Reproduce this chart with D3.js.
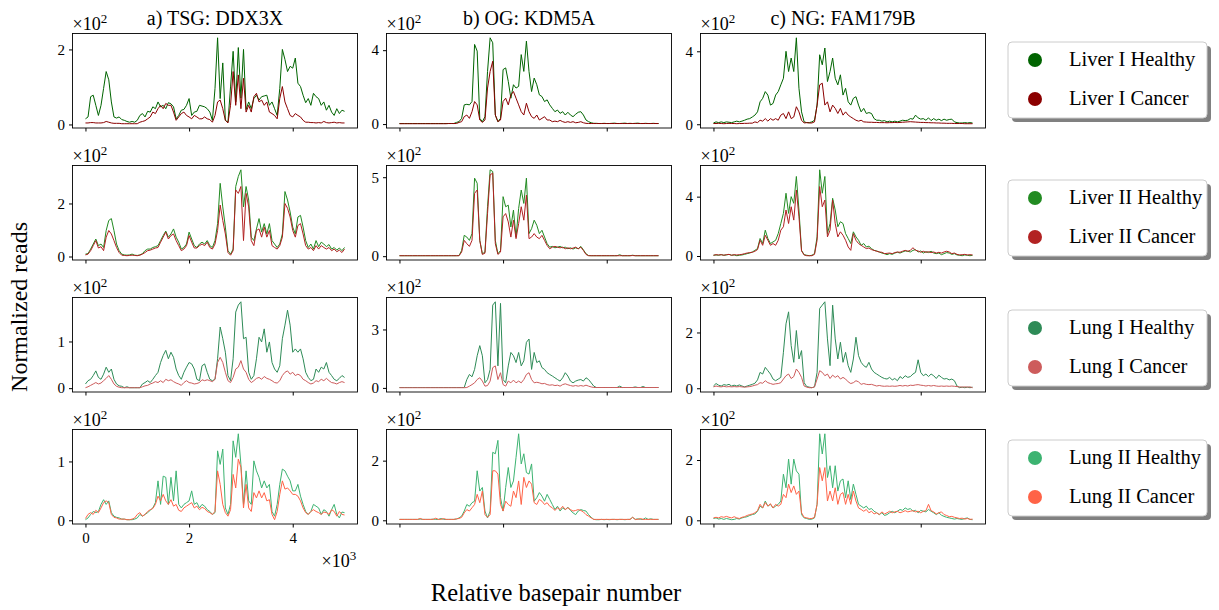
<!DOCTYPE html>
<html>
<head>
<meta charset="utf-8">
<script src="https://cdn.jsdelivr.net/npm/d3@7"></script>
<style>
body { margin: 0; background: #fff; }
text { font-family: "Liberation Serif", "DejaVu Serif", serif; fill: #000; }
</style>
</head>
<body>
<svg id="chart" width="1219" height="610"></svg>
<script>
// basepair positions (every 50 bp)
var bp = d3.range(0, 5001, 50);

var geneTitles = ['a) TSG: DDX3X', 'b) OG: KDM5A', 'c) NG: FAM179B'];
var tissues = ['Liver I', 'Liver II', 'Lung I', 'Lung II'];

// y tick values per panel (reads), labelled in units of 10^2
var yTicks = [
  [[0, 200], [0, 400], [0, 400]],
  [[0, 200], [0, 500], [0, 400]],
  [[0, 100], [0, 300], [0, 200]],
  [[0, 100], [0, 200], [0, 200]]
];
var xTicks = [0, 2000, 4000];

// ---- Liver I ----
var liver1HealthyDDX3X = [15,20,74,78,51,24,51,96,141,119, 60,20,17,20,13,11,8,6,8,6, 11,24,29,20,35,33,47,42,60,47, 51,42,58,55,47,15,24,38,40,51, 69,24,33,35,51,49,47,42,33,11, 96,231,69,164,11,6,100,195,60,205, 70,200,40,60,42,69,78,65,74,76, 78,51,60,42,24,96,200,173,141,155, 150,177,110,101,78,58,69,51,83,74, 69,51,60,38,51,33,24,42,29,38, 35];
var liver1CancerDDX3X = [4,4,5,5,4,4,4,5,8,6, 4,3,3,3,2,2,2,2,2,2, 2,6,8,10,15,20,33,29,42,51, 42,56,51,51,33,11,20,29,33,24, 20,15,24,20,15,15,20,15,13,6, 24,60,65,42,11,4,51,141,51,132, 42,123,33,51,33,74,83,60,65,51, 60,33,29,24,15,69,101,60,42,24, 20,29,24,20,11,6,6,5,5,4, 5,4,8,5,4,5,6,4,5,4, 4];
var liver1HealthyKDM5A = [3,3,3,3,3,3,3,3,3,3, 3,3,3,3,3,3,3,3,3,3, 3,3,9,13,31,104,107,104,122,431, 395,31,13,40,285,467,440,49,13,31, 295,304,231,140,213,195,204,376,285,449, 285,176,249,213,158,149,122,131,104,85, 67,76,58,67,49,64,49,40,53,64, 67,49,22,13,7,4,4,3,3,4, 3,3,4,5,3,3,4,5,3,4, 3,4,5,3,3,4,3,3,4,3, 3];
var liver1CancerKDM5A = [2,2,2,2,2,2,2,2,2,2, 2,2,2,2,2,2,2,2,2,3, 3,3,3,9,13,40,49,31,67,122, 104,22,9,22,195,285,340,49,13,22, 122,140,104,158,176,140,104,67,49,113, 67,40,31,49,22,31,40,22,22,13, 16,13,20,13,9,13,9,13,7,9, 13,7,4,3,3,3,3,3,3,3, 3,3,3,3,3,3,3,3,3,3, 3,3,3,3,3,3,3,3,3,3, 3];
var liver1HealthyFAM179B = [7,13,9,13,9,13,11,9,13,17, 13,17,22,28,31,40,50,68,123,142, 179,160,105,114,160,179,216,252,400,289, 363,289,474,197,68,13,9,9,13,22, 105,381,326,418,234,289,363,252,216,271, 160,197,123,105,142,151,105,68,87,59, 64,59,31,22,22,17,20,13,17,13, 17,13,17,22,20,22,31,28,50,35, 28,31,22,35,20,31,22,28,20,28, 22,26,28,13,9,7,7,9,7,9, 7];
var liver1CancerFAM179B = [4,4,5,4,3,4,5,4,4,3, 4,4,5,5,6,6,13,9,22,17, 31,17,31,22,31,22,50,59,31,68, 31,40,96,68,22,7,9,7,7,13, 105,216,225,105,123,68,105,87,59,87, 50,68,50,40,31,22,17,22,13,12, 11,11,10,10,9,9,9,8,9,9, 10,9,10,11,12,13,14,13,12,11, 10,10,9,9,8,8,7,7,6,6, 5,5,5,4,4,4,4,3,3,3, 3];

// ---- Liver II ----
var liver2HealthyDDX3X = [9,11,28,47,66,41,47,34,98,136, 143,98,47,22,9,6,5,6,9,5, 4,6,11,22,28,28,34,37,41,60, 79,96,73,85,104,73,54,28,34,47, 92,66,41,34,47,54,47,60,41,34, 60,124,276,187,111,22,9,28,264,302, 327,187,264,213,73,60,104,143,92,124, 85,124,60,47,34,47,85,245,213,168, 111,85,149,155,111,60,34,47,28,60, 37,54,47,37,45,28,34,24,32,22, 34];
var liver2CancerDDX3X = [6,9,22,41,60,32,37,22,73,98, 85,60,34,15,5,4,3,4,5,4, 3,5,9,15,22,24,28,32,34,54, 73,92,66,79,85,60,41,22,28,41, 79,54,32,32,41,47,41,54,34,28, 47,98,194,136,85,15,5,22,251,238, 264,60,238,187,60,41,98,104,73,111, 73,98,41,34,28,41,73,200,182,149, 98,73,117,124,85,41,28,34,22,41, 28,41,34,28,34,22,28,18,24,15, 28];
var liver2HealthyKDM5A = [3,3,3,3,3,3,3,3,3,3, 3,3,3,3,3,3,3,3,3,3, 3,3,3,4,36,132,121,100,143,494, 462,100,15,26,313,547,536,100,15,36, 377,313,323,185,292,121,302,419,334,494, 143,174,228,196,143,164,121,79,57,62, 53,57,62,53,57,47,53,45,53,47, 62,40,15,4,3,3,3,3,3,3, 3,3,3,3,3,9,3,3,3,3, 6,3,3,3,3,3,3,3,3,3, 3];
var liver2CancerKDM5A = [3,3,3,3,3,3,3,3,3,3, 3,3,3,3,3,3,3,3,3,3, 3,3,3,3,26,100,79,62,100,398, 419,100,11,19,270,515,526,79,11,26, 249,270,217,121,228,111,206,313,228,387, 111,121,143,121,111,132,100,68,47,57, 62,57,53,57,47,53,47,51,57,47, 57,36,11,3,3,3,3,3,3,3, 3,3,3,3,3,3,3,3,3,3, 4,3,3,3,3,3,3,3,3,3, 3];
var liver2HealthyFAM179B = [5,7,5,9,5,7,11,5,7,2, 5,7,11,16,20,27,38,50,118,84, 174,118,84,95,106,151,219,287,423,287, 400,355,536,310,38,9,5,2,5,16, 129,581,423,536,151,219,389,310,197,231, 219,151,118,84,163,129,106,72,84,61, 66,50,38,34,27,20,16,9,16,11, 20,25,20,27,34,32,27,38,43,27, 34,20,29,23,32,20,16,20,9,16, 23,20,11,16,7,5,2,7,5,2, 5];
var liver2CancerFAM179B = [5,9,7,9,5,9,11,5,9,7, 9,11,16,20,23,25,32,43,106,72, 140,106,72,84,72,106,174,197,310,219, 332,242,445,264,34,7,2,2,2,11, 106,468,332,377,129,174,377,219,129,163, 140,106,61,38,151,106,84,72,61,50, 54,43,38,32,27,25,16,18,20,16, 23,27,25,32,38,32,38,56,38,34, 25,32,25,29,23,27,20,25,20,27, 32,27,16,20,11,7,9,11,7,9, 7];

// ---- Lung I ----
var lung1HealthyDDX3X = [9,16,19,27,37,23,19,30,45,34, 41,19,9,5,4,1,3,1,1,1, 1,1,9,12,16,12,19,27,34,55, 70,81,63,77,66,41,27,19,34,45, 55,52,41,19,16,48,52,34,19,16, 19,63,131,106,77,27,16,63,163,178, 185,106,109,34,19,27,63,109,99,127, 77,99,55,41,34,48,106,135,167,135, 77,84,77,84,63,34,23,16,19,41, 34,45,41,55,34,27,19,16,21,27, 23];
var lung1CancerDDX3X = [1,3,6,9,12,9,11,16,21,27, 19,9,4,2,1,1,1,1,1,1, 1,1,3,5,6,9,11,14,12,16, 12,19,16,18,14,11,9,6,12,16, 12,11,9,10,12,18,16,18,16,14, 19,55,66,55,34,16,12,23,41,45, 59,41,34,19,12,16,21,23,19,25, 21,19,16,12,11,16,27,34,37,30, 34,27,30,27,19,16,12,9,11,16, 14,19,16,21,16,12,11,9,12,14, 12];
var lung1HealthyKDM5A = [2,2,2,2,2,2,2,2,2,2, 2,2,2,2,2,2,2,2,2,2, 2,2,2,2,2,2,43,69,57,95, 165,217,165,26,43,95,425,442,113,434, 43,26,113,182,165,130,182,113,139,234, 251,95,182,130,139,104,95,78,69,61, 52,43,35,52,78,61,35,26,35,40, 43,35,52,43,26,9,2,2,2,2, 2,2,2,2,2,9,2,2,2,2, 2,5,2,2,7,2,2,2,2,2, 2];
var lung1CancerKDM5A = [1,1,1,1,1,1,1,1,1,1, 1,1,1,1,1,1,1,1,1,1, 1,1,1,1,1,1,2,9,17,26, 43,52,35,9,12,35,104,113,43,78, 17,9,35,26,40,26,35,26,43,69, 78,43,26,29,26,21,23,17,14,16, 12,14,9,17,21,16,12,9,12,9, 12,9,14,9,5,2,2,2,2,2, 2,2,2,2,2,2,2,2,2,2, 2,2,2,2,2,2,2,2,2,2, 2];
var lung1HealthyFAM179B = [8,17,11,8,13,11,14,8,11,8, 12,8,5,8,11,14,18,30,57,51, 75,63,51,33,27,33,39,129,231,274, 153,93,207,105,135,20,6,4,2,5, 57,286,298,310,177,81,298,177,105,165, 93,129,81,57,105,183,117,93,81,75, 93,69,57,51,45,39,35,33,39,30, 35,27,42,35,45,39,42,51,57,102, 57,45,51,42,51,45,35,47,39,33, 35,30,33,27,8,2,4,2,4,2, 4];
var lung1CancerFAM179B = [5,8,6,5,7,5,6,5,6,5, 6,5,4,5,6,8,11,13,20,18, 27,20,17,14,16,17,20,33,45,51, 35,42,69,57,39,8,4,2,2,5, 33,63,57,45,51,35,47,39,45,33, 39,33,23,17,20,27,23,14,17,14, 13,14,11,8,10,8,7,8,7,8, 7,8,10,8,10,8,11,10,12,13, 11,10,8,10,8,10,8,7,8,7, 8,7,8,7,6,5,4,5,4,5, 2];

// ---- Lung II ----
var lung2HealthyDDX3X = [1,4,10,15,13,15,27,35,27,33, 13,7,5,4,2,2,1,1,1,2, 4,10,7,10,13,17,21,30,67,27, 75,73,27,73,33,84,27,21,27,30, 33,50,27,30,21,27,24,18,15,10, 13,118,95,121,21,10,27,135,107,147, 95,27,84,33,27,101,84,73,55,67, 55,61,15,7,27,61,87,84,75,67, 50,50,61,41,27,15,10,15,27,24, 21,10,18,15,7,18,27,10,4,14, 13];
var lung2CancerDDX3X = [3,10,13,10,17,13,21,30,33,30, 10,5,4,2,2,2,1,1,2,4, 10,13,7,10,15,18,20,27,41,33, 44,33,27,35,24,27,17,15,21,24, 27,30,21,24,18,22,20,15,13,10, 15,84,61,27,13,7,18,78,55,104, 90,21,61,21,15,47,38,50,38,47, 33,35,10,1,15,44,67,53,55,50, 44,44,41,33,21,13,10,15,18,15, 13,10,14,13,10,18,15,7,15,10, 9];
var lung2HealthyKDM5A = [3,3,3,3,3,3,3,3,4,3, 3,3,3,4,3,3,6,3,3,3, 3,3,4,8,14,31,53,47,59,64, 166,98,110,31,8,31,228,223,268,76, 31,110,177,110,132,211,290,189,223,160, 155,189,64,76,93,81,64,87,70,53, 36,47,31,42,36,44,33,25,19,31, 36,33,31,19,10,3,2,2,3,2, 3,2,3,3,2,3,3,2,3,3, 10,3,5,3,3,8,3,5,3,3, 3];
var lung2CancerKDM5A = [3,3,3,3,3,3,3,3,6,3, 3,3,3,3,7,3,3,6,3,3, 3,3,5,6,10,25,36,31,42,53, 87,59,98,19,10,19,166,166,155,53, 31,64,53,47,98,76,132,53,144,110, 132,121,59,53,70,64,53,59,47,42, 33,42,36,47,36,42,36,31,33,36, 33,28,19,14,8,3,3,3,3,3, 3,3,3,3,3,3,3,3,3,3, 10,3,3,6,3,3,3,3,3,3, 3];
var lung2HealthyFAM179B = [6,8,4,6,3,6,4,2,3,6, 4,8,10,12,16,19,21,30,47,41, 64,47,53,41,47,53,64,153,108,203, 120,203,164,153,19,8,6,3,4,8, 53,287,220,287,142,181,108,181,97,131, 137,75,131,69,120,86,53,47,41,47, 36,39,30,25,19,25,16,19,25,30, 25,30,36,33,41,36,39,30,33,25, 33,30,28,36,30,25,19,25,17,13, 10,8,6,4,6,4,3,6,8,3, 2];
var lung2CancerFAM179B = [8,10,8,12,10,13,10,8,12,8, 6,10,12,16,19,21,25,32,53,41, 59,47,55,41,53,47,53,86,75,120, 92,114,86,97,25,10,8,6,6,10, 53,175,131,175,64,97,64,108,53,86, 92,53,86,53,97,64,41,36,30,36, 25,30,21,25,19,28,21,25,30,25, 28,30,25,28,32,28,30,32,28,30, 25,30,32,53,32,28,21,25,28,19, 16,12,13,10,8,6,7,4,6,3, 4];

var healthy = [
  [liver1HealthyDDX3X, liver1HealthyKDM5A, liver1HealthyFAM179B],
  [liver2HealthyDDX3X, liver2HealthyKDM5A, liver2HealthyFAM179B],
  [lung1HealthyDDX3X, lung1HealthyKDM5A, lung1HealthyFAM179B],
  [lung2HealthyDDX3X, lung2HealthyKDM5A, lung2HealthyFAM179B]
];
var cancer = [
  [liver1CancerDDX3X, liver1CancerKDM5A, liver1CancerFAM179B],
  [liver2CancerDDX3X, liver2CancerKDM5A, liver2CancerFAM179B],
  [lung1CancerDDX3X, lung1CancerKDM5A, lung1CancerFAM179B],
  [lung2CancerDDX3X, lung2CancerKDM5A, lung2CancerFAM179B]
];

var healthyColors = ['#006400', '#228b22', '#2e8b57', '#3cb371'];
var cancerColors = ['#8b0000', '#b22222', '#cd5c5c', '#ff6347'];

var svg = d3.select('#chart');

var colX = [72.5, 386.5, 700.5];
var rowY = [33.5, 165.5, 297.5, 429.5];
var pw = 285, ph = 94.5;

// "x10^n" offset text, matplotlib style
function multiplier(g, x, y, exp) {
  var t = g.append('text').attr('x', x).attr('y', y).style('font-size', '18px');
  t.append('tspan').text('\u00d710');
  t.append('tspan').attr('dy', -7).style('font-size', '13px').text(exp);
}

rowY.forEach(function(top, r) {
  colX.forEach(function(left, c) {
    var h = healthy[r][c], k = cancer[r][c];
    var all = h.concat(k);
    var lo = d3.min(all), hi = d3.max(all), pad = (hi - lo) * 0.05;

    var x = d3.scaleLinear().domain([-250, 5250]).range([left, left + pw]);
    var y = d3.scaleLinear().domain([lo - pad, hi + pad]).range([top + ph, top]);

    var g = svg.append('g');
    var line = d3.line().x(function(d, i) { return x(bp[i]); }).y(function(d) { return y(d); });

    g.append('path').attr('d', line(h)).attr('fill', 'none')
      .attr('stroke', healthyColors[r]).attr('stroke-width', 1).attr('stroke-linejoin', 'round');
    g.append('path').attr('d', line(k)).attr('fill', 'none')
      .attr('stroke', cancerColors[r]).attr('stroke-width', 1).attr('stroke-linejoin', 'round');

    g.append('rect').attr('x', left).attr('y', top).attr('width', pw).attr('height', ph)
      .attr('fill', 'none').attr('stroke', '#000').attr('stroke-width', 0.9);

    var yAxis = g.append('g').attr('transform', 'translate(' + left + ',0)')
      .call(d3.axisLeft(y).tickValues(yTicks[r][c]).tickSize(3.5).tickPadding(4)
        .tickFormat(function(d) { return d / 100; }));
    yAxis.select('.domain').remove();
    yAxis.selectAll('text').style('font-size', '15px').style('font-family', '"Liberation Serif", serif');

    var showX = (r === 3 && c === 0);
    var xAxis = g.append('g').attr('transform', 'translate(0,' + (top + ph) + ')')
      .call(d3.axisBottom(x).tickValues(xTicks).tickSize(3.5).tickPadding(5)
        .tickFormat(function(d) { return showX ? d / 1000 : ''; }));
    xAxis.select('.domain').remove();
    xAxis.selectAll('text').style('font-size', '15px').style('font-family', '"Liberation Serif", serif');

    multiplier(g, left, top - 4, '2');

    if (r === 3 && c === 0) multiplier(g, left + pw - 36, top + ph + 43, '3');
    if (r === 0) {
      g.append('text').attr('x', left + pw / 2).attr('y', 25).attr('text-anchor', 'middle')
        .style('font-size', '20px').text(geneTitles[c]);
    }
  });

  // legend box for this tissue
  var lx = 1008, ly = [42, 180, 310, 440][r], lw = 199, lh = 76;
  var leg = svg.append('g');
  leg.append('rect').attr('x', lx + 4).attr('y', ly + 4).attr('width', lw).attr('height', lh)
    .attr('rx', 4).attr('fill', '#808080');
  leg.append('rect').attr('x', lx).attr('y', ly).attr('width', lw).attr('height', lh)
    .attr('rx', 4).attr('fill', '#fff').attr('stroke', '#cccccc').attr('stroke-width', 1);
  [[healthyColors[r], tissues[r] + ' Healthy'], [cancerColors[r], tissues[r] + ' Cancer']].forEach(function(e, j) {
    var cy = ly + 18 + j * 39;
    leg.append('circle').attr('cx', lx + 27).attr('cy', cy).attr('r', 7).attr('fill', e[0]);
    leg.append('text').attr('x', lx + 61).attr('y', cy + 6).style('font-size', '20.5px').text(e[1]);
  });
});

svg.append('text').attr('transform', 'translate(27,' + 307 + ') rotate(-90)')
  .attr('text-anchor', 'middle').style('font-size', '24px').text('Normalized reads');
svg.append('text').attr('x', 556).attr('y', 601).attr('text-anchor', 'middle')
  .style('font-size', '24.5px').text('Relative basepair number');
</script>
</body>
</html>
